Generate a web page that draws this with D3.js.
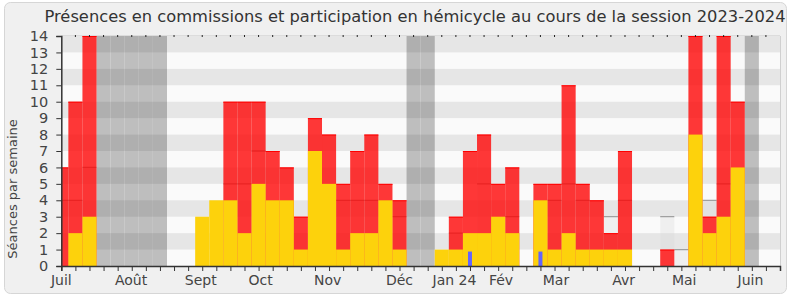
<!DOCTYPE html>
<html>
<head>
<meta charset="utf-8">
<script src="https://cdn.jsdelivr.net/npm/d3@7"></script>
<style>
    body { margin: 0; background: #ffffff; }
    svg { display: block; font-family: "DejaVu Sans", Verdana, sans-serif; }
</style>
</head>
<body>
<div id="chart"></div>
<script>
// one entry per week of the session (week 0 = first week of July 2023)
const participation = [0, 2, 3, 0, 0, 0, 0, 0, 0, 0, 3, 4, 4, 2, 5, 4, 4, 1, 7, 5, 1, 2, 2, 4, 1, 0, 0, 1, 1, 2, 2, 3, 2, 0, 4, 1, 2, 1, 1, 1, 1, 0, 0, 0, 0, 8, 2, 3, 6, 0, 0, 0];
const presences = [6, 10, 14, 0, 0, 0, 0, 0, 0, 0, 0, 0, 10, 10, 10, 7, 6, 3, 9, 8, 5, 7, 8, 5, 4, 0, 0, 0, 3, 7, 8, 5, 6, 0, 5, 5, 11, 5, 4, 2, 7, 0, 0, 1, 0, 14, 3, 14, 10, 0, 0, 0];
const mediane = [4, 4, 6, null, null, null, null, null, null, null, null, null, 5, 5, 7, null, null, null, null, null, 4, 4, 4, null, 3, null, null, null, 2, null, 5, null, 3, null, null, 4, 5, 4, null, 3, 4, null, null, 3, 1, null, 4, 5, null, null, null, null];
const questions = [0, 0, 0, 0, 0, 0, 0, 0, 0, 0, 0, 0, 0, 0, 0, 0, 0, 0, 0, 0, 0, 0, 0, 0, 0, 0, 0, 0, 0, 1, 0, 0, 0, 0, 1, 0, 0, 0, 0, 0, 0, 0, 0, 0, 0, 0, 0, 0, 0, 0, 0, 0];
const vacances = [3, 4, 5, 6, 7, 25, 26, 49];

// month labels and the week where they sit
const monthLabels = ["Juil", "Août", "Sept", "Oct", "Nov", "Déc", "Jan 24", "Fév", "Mar", "Avr", "Mai", "Juin"];
const monthWeeks = [0, 4.95, 9.9, 14.15, 18.9, 24, 27.9, 31.2, 35.1, 39.9, 44.2, 48.9];

const yTicks = d3.range(0, 15);

let drawChart = () => {
    const width = 790, height = 300;
    const margin = { top: 36, right: 10, bottom: 34, left: 61.3 };
    const nWeeks = participation.length;

    const svg = d3.select('#chart')
        .append('svg')
        .attr('width', width)
        .attr('height', height);

    // panel
    svg.append('rect')
        .attr('x', 4.5).attr('y', 2.5)
        .attr('width', 782).attr('height', 291)
        .attr('rx', 6)
        .attr('fill', '#f0f0f0')
        .attr('stroke', '#d6d6d6');

    const x = d3.scaleLinear()
        .domain([0, nWeeks - 1])
        .range([margin.left, width - margin.right]);

    const y = d3.scaleLinear()
        .domain([0, 14])
        .range([height - margin.bottom, margin.top]);

    const step = x(1) - x(0);

    svg.append('clipPath').attr('id', 'plotClip')
        .append('rect')
        .attr('x', x(0)).attr('y', y(14))
        .attr('width', x(nWeeks - 1) - x(0))
        .attr('height', y(0) - y(14));

    const plot = svg.append('g').attr('clip-path', 'url(#plotClip)');

    plot.append('rect')
        .attr('x', x(0)).attr('y', y(14))
        .attr('width', x(nWeeks - 1) - x(0))
        .attr('height', y(0) - y(14))
        .attr('fill', '#fafafa');

    // holidays
    plot.selectAll('rect.vac')
        .data(vacances)
        .join('rect')
        .attr('class', 'vac')
        .attr('x', d => x(d - 0.5))
        .attr('y', y(14))
        .attr('width', step)
        .attr('height', y(0) - y(14))
        .attr('fill', '#bebebe');

    // horizontal stripes, every other row
    plot.selectAll('rect.stripe')
        .data(yTicks.filter(d => d % 2 == 1))
        .join('rect')
        .attr('class', 'stripe')
        .attr('x', x(0))
        .attr('y', d => y(d + 1))
        .attr('width', x(nWeeks - 1) - x(0))
        .attr('height', d => y(d) - y(d + 1))
        .attr('fill', '#000')
        .attr('fill-opacity', 0.08);

    // median of all deputies
    const med = mediane.map((v, i) => ({ i: i, v: v })).filter(d => d.v != null);
    plot.selectAll('rect.med')
        .data(med)
        .join('rect')
        .attr('class', 'med')
        .attr('x', d => x(d.i - 0.5))
        .attr('y', d => y(d.v))
        .attr('width', step)
        .attr('height', d => y(0) - y(d.v))
        .attr('fill', '#d8d8d8')
        .attr('fill-opacity', 0.3);
    plot.selectAll('line.med')
        .data(med)
        .join('line')
        .attr('class', 'med')
        .attr('x1', d => x(d.i - 0.5))
        .attr('x2', d => x(d.i + 0.5))
        .attr('y1', d => y(d.v))
        .attr('y2', d => y(d.v))
        .attr('stroke', '#a0a0a0')
        .attr('stroke-width', 1.3);

    // presences (red, transparent)
    const pres = presences.map((v, i) => ({ i: i, v: v })).filter(d => d.v > 0);
    plot.selectAll('rect.pres')
        .data(pres)
        .join('rect')
        .attr('class', 'pres')
        .attr('x', d => x(d.i - 0.5))
        .attr('y', d => y(d.v))
        .attr('width', step)
        .attr('height', d => y(0) - y(d.v))
        .attr('fill', '#ff0000')
        .attr('fill-opacity', 0.78);
    plot.selectAll('line.pres')
        .data(pres)
        .join('line')
        .attr('class', 'pres')
        .attr('x1', d => x(d.i - 0.5))
        .attr('x2', d => x(d.i + 0.5))
        .attr('y1', d => y(d.v) + 0.5)
        .attr('y2', d => y(d.v) + 0.5)
        .attr('stroke', '#ff0000')
        .attr('stroke-width', 1);

    // participation (yellow)
    const part = participation.map((v, i) => ({ i: i, v: v })).filter(d => d.v > 0);
    plot.selectAll('rect.part')
        .data(part)
        .join('rect')
        .attr('class', 'part')
        .attr('x', d => x(d.i - 0.5))
        .attr('y', d => y(d.v))
        .attr('width', step)
        .attr('height', d => y(0) - y(d.v))
        .attr('fill', '#fdd20c');

    // oral questions (thin blue)
    const quest = questions.map((v, i) => ({ i: i, v: v })).filter(d => d.v > 0);
    plot.selectAll('rect.quest')
        .data(quest)
        .join('rect')
        .attr('class', 'quest')
        .attr('x', d => x(d.i) - 2)
        .attr('y', d => y(d.v) + 2)
        .attr('width', 4)
        .attr('height', d => y(0) - y(d.v) - 2)
        .attr('fill', '#6464ff');

    // frame
    svg.append('line')
        .attr('x1', x(0)).attr('x2', x(nWeeks - 1))
        .attr('y1', y(14) - 0.5).attr('y2', y(14) - 0.5)
        .attr('stroke', '#dcdcdc');
    svg.append('line')
        .attr('x1', x(nWeeks - 1) + 0.5).attr('x2', x(nWeeks - 1) + 0.5)
        .attr('y1', y(14)).attr('y2', y(0))
        .attr('stroke', '#d0d0d0');

    // axes
    const weeks = d3.range(0, nWeeks);
    const xAxis = d3.axisBottom(x).tickValues(weeks).tickSize(5).tickFormat('');
    svg.append('g')
        .attr('transform', `translate(0,${y(0)})`)
        .call(xAxis)
        .call(g => g.select('.domain').attr('stroke', '#333').attr('stroke-width', 1.5))
        .call(g => g.selectAll('.tick line').attr('stroke', '#333'));

    // little ticks on top
    svg.append('g')
        .selectAll('line')
        .data(weeks.slice(1, -1))
        .join('line')
        .attr('x1', d => x(d)).attr('x2', d => x(d))
        .attr('y1', y(14) - 1).attr('y2', y(14) + 1)
        .attr('stroke', '#222');

    svg.append('g')
        .selectAll('text')
        .data(monthLabels)
        .join('text')
        .attr('x', (d, i) => x(monthWeeks[i]))
        .attr('y', y(0) + 19)
        .attr('text-anchor', 'middle')
        .attr('font-size', '14px')
        .attr('fill', '#444')
        .text(d => d);

    const yAxis = d3.axisLeft(y).tickValues(yTicks).tickSize(5).tickPadding(8).tickFormat(d3.format('d'));
    svg.append('g')
        .attr('transform', `translate(${x(0)},0)`)
        .call(yAxis)
        .call(g => g.select('.domain').attr('stroke', '#333').attr('stroke-width', 1.5))
        .call(g => g.selectAll('.tick line').attr('stroke', '#333'))
        .call(g => g.selectAll('.tick text')
            .attr('font-size', '14.5px')
            .attr('font-family', '"DejaVu Sans", Verdana, sans-serif')
            .attr('fill', '#444'));

    // titles
    svg.append('text')
        .attr('x', 415)
        .attr('y', 22)
        .attr('text-anchor', 'middle')
        .attr('font-size', '16.3px')
        .attr('fill', '#333')
        .text('Présences en commissions et participation en hémicycle au cours de la session 2023-2024');

    svg.append('text')
        .attr('transform', 'translate(17,189) rotate(-90)')
        .attr('text-anchor', 'middle')
        .attr('font-size', '13px')
        .attr('fill', '#444')
        .text('Séances par semaine');
}

drawChart();
</script>
</body>
</html>
